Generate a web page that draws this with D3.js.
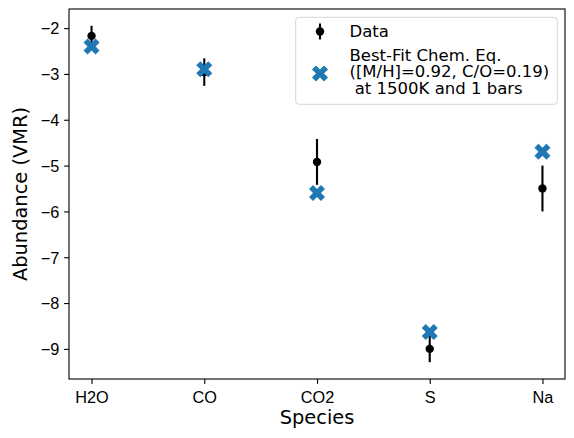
<!DOCTYPE html>
<html>
<head>
<meta charset="utf-8">
<script src="https://cdn.jsdelivr.net/npm/d3@7"></script>
<style>
  body { margin: 0; background: #fff; }
  svg { display: block; font-family: "DejaVu Sans", sans-serif; }
</style>
</head>
<body>
<svg id="chart" width="574" height="438"></svg>
<script>
const species = ['H2O', 'CO', 'CO2', 'S', 'Na'];
const dataValues = [-2.17, -2.96, -4.92, -9.0, -5.5];
const dataErrors = [0.22, 0.3, 0.5, 0.29, 0.5];
const modelValues = [-2.4, -2.9, -5.6, -8.63, -4.7];
const yTickValues = [-2, -3, -4, -5, -6, -7, -8, -9];
const legendLabels = [
  ['Data'],
  ['Best-Fit Chem. Eq.', '([M/H]=0.92, C/O=0.19)', '\u00a0at 1500K and 1 bars']
];

const svg = d3.select('#chart');
const margin = {top: 9, right: 9, bottom: 59, left: 69};
const width = 574 - margin.left - margin.right;
const height = 438 - margin.top - margin.bottom;
const blue = '#1f77b4';

// matplotlib-style 5% autoscale margins
const lo = d3.min(dataValues, (d, i) => d - dataErrors[i]);
const hi = d3.max(dataValues, (d, i) => d + dataErrors[i]);
const yMin = Math.min(lo, d3.min(modelValues));
const yMax = Math.max(hi, d3.max(modelValues));
const pad = (yMax - yMin) * 0.05;

const x = d3.scaleLinear()
  .domain([-0.2, species.length - 1 + 0.2])
  .range([0, width]);
const y = d3.scaleLinear()
  .domain([yMin - pad, yMax + pad])
  .range([height, 0]);

const g = svg.append('g')
  .attr('transform', `translate(${margin.left},${margin.top})`);

// filled "X" marker, same outline as matplotlib's
const xMarker = (size) => {
  const pts = [[-1, -2], [0, -1], [1, -2], [2, -1], [1, 0], [2, 1],
    [1, 2], [0, 1], [-1, 2], [-2, 1], [-1, 0], [-2, -1]];
  return 'M' + pts.map((p) => `${p[0] * size / 4},${p[1] * size / 4}`).join('L') + 'Z';
};

// axes
const xAxis = d3.axisBottom(x)
  .tickValues(d3.range(species.length))
  .tickFormat((i) => species[i])
  .tickSize(4.9)
  .tickPadding(4.9);
const yAxis = d3.axisLeft(y)
  .tickValues(yTickValues)
  .tickFormat(d3.format('d'))
  .tickSize(4.9)
  .tickPadding(4.9);

const styleAxis = (sel) => {
  sel.select('.domain').remove();
  sel.selectAll('.tick line').attr('stroke', '#000').attr('stroke-width', 1.1);
  sel.selectAll('.tick text').attr('fill', '#000').style('font-size', '16.3px');
};

g.append('g')
  .attr('transform', `translate(0,${height})`)
  .call(xAxis)
  .call(styleAxis)
  .selectAll('.tick text')
  .attr('dy', '0.9em');

g.append('g')
  .call(yAxis)
  .call(styleAxis)
  .selectAll('.tick text')
  .attr('dy', '0.36em');

// error bars + data points
const pts = g.append('g');
pts.selectAll('line.err')
  .data(dataValues)
  .enter()
  .append('line')
  .attr('class', 'err')
  .attr('x1', (d, i) => x(i))
  .attr('x2', (d, i) => x(i))
  .attr('y1', (d, i) => y(d - dataErrors[i]))
  .attr('y2', (d, i) => y(d + dataErrors[i]))
  .attr('stroke', '#000')
  .attr('stroke-width', 2.1);

pts.selectAll('circle')
  .data(dataValues)
  .enter()
  .append('circle')
  .attr('cx', (d, i) => x(i))
  .attr('cy', (d) => y(d))
  .attr('r', 4.2)
  .attr('fill', '#000');

// best-fit model markers
g.append('g')
  .selectAll('path')
  .data(modelValues)
  .enter()
  .append('path')
  .attr('d', xMarker(16))
  .attr('transform', (d, i) => `translate(${x(i)},${y(d)})`)
  .attr('fill', blue);

// frame
g.append('rect')
  .attr('width', width)
  .attr('height', height)
  .attr('fill', 'none')
  .attr('stroke', '#000')
  .attr('stroke-width', 1.1);

// axis titles
svg.append('text')
  .attr('x', margin.left + width / 2)
  .attr('y', 424)
  .attr('text-anchor', 'middle')
  .style('font-size', '19.4px')
  .text('Species');

svg.append('text')
  .attr('transform', `translate(27,${margin.top + height / 2}) rotate(-90)`)
  .attr('text-anchor', 'middle')
  .style('font-size', '19.4px')
  .text('Abundance (VMR)');

// legend
const legend = svg.append('g');
legend.append('rect')
  .attr('x', 295.7)
  .attr('y', 17.3)
  .attr('width', 261.6)
  .attr('height', 87)
  .attr('rx', 3)
  .attr('fill', '#fff')
  .attr('fill-opacity', 0.8)
  .attr('stroke', '#d6d6d6')
  .attr('stroke-width', 1);

const keyX = 320;
legend.append('line')
  .attr('x1', keyX).attr('x2', keyX)
  .attr('y1', 23.5).attr('y2', 39.5)
  .attr('stroke', '#000')
  .attr('stroke-width', 2.1);
legend.append('circle')
  .attr('cx', keyX).attr('cy', 31.5)
  .attr('r', 4.2)
  .attr('fill', '#000');
legend.append('path')
  .attr('d', xMarker(16))
  .attr('transform', `translate(${keyX},73.5)`)
  .attr('fill', blue);

const lineStarts = [37, 60.5];
legendLabels.forEach((lines, k) => {
  lines.forEach((s, j) => {
    legend.append('text')
      .attr('x', 349.5)
      .attr('y', lineStarts[k] + j * 16.7)
      .style('font-size', '16.5px')
      .text(s);
  });
});
</script>
</body>
</html>
